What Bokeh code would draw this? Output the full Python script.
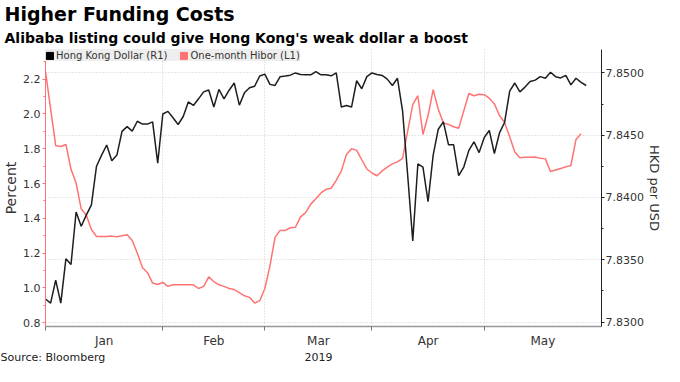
from bokeh.plotting import figure
from bokeh.models import (Range1d, LinearAxis, FixedTicker, PrintfTickFormatter, Grid,
                          Legend, LegendItem, Title)
from bokeh.embed import file_html
from bokeh.resources import INLINE

# ---- data (business-day index from 1 Jan 2019) ----
months = ["Jan", "Feb", "Mar", "Apr", "May"]
month_start = [0, 23, 43, 64, 86]
period_end = 109
year_label = "2019"
source_text = "Source: Bloomberg"

hkd = [7.83185, 7.83152, 7.83337, 7.83152, 7.83507, 7.83462, 7.83883, 7.83769, 7.83858, 7.83941,
       7.84251, 7.84340, 7.84421, 7.84295, 7.84340, 7.84531, 7.84569, 7.84533, 7.84612, 7.84589,
       7.84589, 7.84607, 7.84276, 7.84670, 7.84691, 7.84640, 7.84586, 7.84650, 7.84767, 7.84739,
       7.84792, 7.84848, 7.84863, 7.84726, 7.84868, 7.84792, 7.84861, 7.84919, 7.84741, 7.84840,
       7.84881, 7.84893, 7.84975, 7.84990, 7.84908, 7.84899, 7.84970, 7.84975, 7.84982, 7.85000,
       7.84988, 7.84985, 7.84985, 7.85010, 7.84985, 7.84985, 7.84977, 7.85000, 7.84726, 7.84739,
       7.84726, 7.84937, 7.84873, 7.84970, 7.85000, 7.84988, 7.84980, 7.84950, 7.84899, 7.84957,
       7.84695, 7.84180, 7.83650, 7.84269, 7.84244, 7.83967, 7.84340, 7.84548, 7.84607, 7.84424,
       7.84424, 7.84175, 7.84244, 7.84378, 7.84447, 7.84360, 7.84480, 7.84538, 7.84353, 7.84518,
       7.84602, 7.84853, 7.84919, 7.84848, 7.84886, 7.84931, 7.84942, 7.84970, 7.84957, 7.85005,
       7.84970, 7.84960, 7.84980, 7.84904, 7.84957, 7.84924, 7.84899]

hibor = [2.245, 2.031, 1.818, 1.813, 1.825, 1.682, 1.603, 1.455, 1.418, 1.336,
         1.296, 1.296, 1.296, 1.298, 1.294, 1.300, 1.306, 1.273, 1.200, 1.118,
         1.088, 1.028, 1.020, 1.032, 1.009, 1.018, 1.018, 1.018, 1.018, 1.018,
         0.997, 1.009, 1.064, 1.036, 1.018, 1.009, 0.997, 0.991, 0.973, 0.955,
         0.946, 0.913, 0.927, 0.997, 1.127, 1.291, 1.331, 1.331, 1.346, 1.349,
         1.409, 1.433, 1.482, 1.513, 1.546, 1.567, 1.573, 1.618, 1.673, 1.767,
         1.800, 1.791, 1.737, 1.684, 1.661, 1.645, 1.673, 1.695, 1.713, 1.725,
         1.745, 1.900, 2.054, 2.105, 1.882, 1.991, 2.140, 2.027, 1.949, 1.940,
         1.927, 1.918, 2.018, 2.118, 2.105, 2.114, 2.111, 2.091, 2.058, 1.991,
         1.951, 1.869, 1.782, 1.749, 1.751, 1.751, 1.753, 1.745, 1.742, 1.669,
         1.678, 1.687, 1.696, 1.704, 1.854, 1.887]

pct_ticks = [0.8, 1.0, 1.2, 1.4, 1.6, 1.8, 2.0, 2.2]
pct_minor = [0.9, 1.1, 1.3, 1.5, 1.7, 1.9, 2.1, 2.3]
hkd_ticks = [7.83, 7.835, 7.84, 7.845, 7.85]
hkd_minor = [7.8325, 7.8375, 7.8425, 7.8475]

FONT = "DejaVu Sans"
RED = "#ff7373"
BLACK = "#1e1e1e"
TXT = "#333333"

days_k = list(range(len(hkd)))
days_h = list(range(len(hibor)))
mids = [(a + b) / 2 for a, b in zip(month_start, month_start[1:] + [period_end])]

p = figure(width=664, height=366, output_backend="svg", toolbar_location=None,
           x_range=Range1d(0, period_end), y_range=Range1d(0.7785, 2.3707),
           min_border_left=43, min_border_right=0, min_border_top=0, min_border_bottom=0)
p.outline_line_color = None
p.extra_y_ranges = {"hkd": Range1d(7.82964, 7.85188)}

# grids
p.xgrid.ticker = FixedTicker(ticks=month_start[1:])
p.xgrid.grid_line_color = "#cfcfcf"
p.xgrid.grid_line_dash = "1 2"
p.ygrid.visible = False
p.add_layout(Grid(dimension=1, y_range_name="hkd", ticker=FixedTicker(ticks=hkd_ticks),
                  grid_line_color="#cfcfcf", grid_line_dash="1 2"))

# lines
p.line(days_h, hibor, color=RED, line_width=1.5)
p.line(days_k, hkd, y_range_name="hkd", color=BLACK, line_width=1.5)

# x axis (months)
xa = p.xaxis[0]
xa.ticker = FixedTicker(ticks=mids, minor_ticks=month_start)
xa.major_label_overrides = {m: lab for m, lab in zip(mids, months)}
xa.major_tick_out = 0
xa.major_tick_in = 0
xa.minor_tick_out = 4
xa.minor_tick_in = 0
xa.minor_tick_line_color = "#777777"
xa.axis_line_color = "#999999"
xa.axis_line_width = 1.5
xa.major_label_text_font = FONT
xa.major_label_text_font_size = "12px"
xa.major_label_text_color = TXT
xa.major_label_standoff = 3

# second row below: year under Mar and the source note at the far left
src_x = 1.4
xa2 = LinearAxis(ticker=FixedTicker(ticks=[src_x, mids[2]]),
                 major_label_overrides={src_x: source_text, mids[2]: year_label})
xa2.axis_line_color = None
xa2.major_tick_line_color = None
xa2.minor_tick_line_color = None
xa2.major_tick_out = 0
xa2.major_tick_in = 0
xa2.minor_tick_out = 0
xa2.major_label_standoff = 0
xa2.major_label_text_font = FONT
xa2.major_label_text_font_size = "11px"
xa2.major_label_text_color = "#222222"
p.add_layout(xa2, "below")

# left axis (percent)
ya = p.yaxis[0]
ya.ticker = FixedTicker(ticks=pct_ticks, minor_ticks=pct_minor)
ya.formatter = PrintfTickFormatter(format="%.1f")
ya.axis_line_color = RED
ya.major_tick_line_color = RED
ya.minor_tick_line_color = RED
ya.major_tick_out = 3
ya.major_tick_in = 0
ya.minor_tick_out = 2
ya.minor_tick_in = 0
ya.major_label_text_font = FONT
ya.major_label_text_font_size = "11px"
ya.major_label_text_color = TXT
ya.major_label_standoff = 2
ya.axis_label = "Percent"
ya.axis_label_text_font = FONT
ya.axis_label_text_font_size = "14px"
ya.axis_label_text_font_style = "normal"
ya.axis_label_text_color = TXT
ya.axis_label_standoff = 1

# right axis (HKD per USD)
ra = LinearAxis(y_range_name="hkd", ticker=FixedTicker(ticks=hkd_ticks, minor_ticks=hkd_minor),
                formatter=PrintfTickFormatter(format="%.4f"), axis_label="HKD per USD")
ra.axis_line_color = "#222222"
ra.major_tick_line_color = "#222222"
ra.minor_tick_line_color = "#222222"
ra.major_tick_out = 3
ra.major_tick_in = 0
ra.minor_tick_out = 2
ra.minor_tick_in = 0
ra.major_label_text_font = FONT
ra.major_label_text_font_size = "11px"
ra.major_label_text_color = TXT
ra.major_label_standoff = 1
ra.axis_label_text_font = FONT
ra.axis_label_text_font_size = "13px"
ra.axis_label_text_font_style = "normal"
ra.axis_label_text_color = TXT
ra.axis_label_standoff = 0
p.add_layout(ra, "right")

# legend with square swatches
nan = float("nan")
sq_k = p.quad(left=[nan], right=[nan], top=[nan], bottom=[nan], color="black")
sq_h = p.quad(left=[nan], right=[nan], top=[nan], bottom=[nan], color=RED)
legend = Legend(items=[LegendItem(label="Hong Kong Dollar (R1)", renderers=[sq_k]),
                       LegendItem(label="One-month Hibor (L1)", renderers=[sq_h])],
                orientation="horizontal", location="top_left",
                background_fill_color="#eeeeee", background_fill_alpha=1,
                border_line_color=None, label_text_font=FONT, label_text_font_size="10px",
                label_text_color=TXT, glyph_width=9, glyph_height=9, label_standoff=2,
                spacing=12, padding=7, margin=0, label_height=12)
p.add_layout(legend)

# titles
p.add_layout(Title(text="Alibaba listing could give Hong Kong's weak dollar a boost",
                   text_font=FONT, text_font_size="14px", text_font_style="bold",
                   text_color="#000000", align="left", offset=-41, standoff=7), "above")
p.add_layout(Title(text="Higher Funding Costs", text_font=FONT, text_font_size="19px",
                   text_font_style="bold", text_color="#000000", align="left",
                   offset=-41, standoff=0), "above")

open("out.html", "w").write(file_html(p, INLINE))
